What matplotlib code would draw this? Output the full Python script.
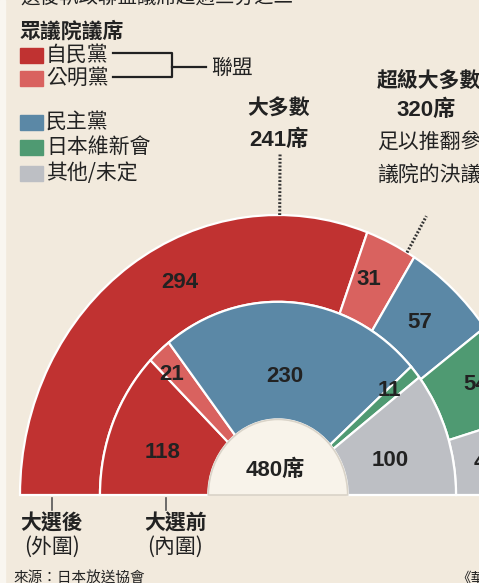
import numpy as np
import matplotlib
matplotlib.use('Agg')
import matplotlib.pyplot as plt
from matplotlib.patches import Wedge, Rectangle

# ── data ──────────────────────────────────────────────────────────────────
parties = ['自民黨', '公明黨', '民主黨', '日本維新會', '其他/未定']
colors = ['#C03231', '#D9625F', '#5B88A6', '#4F9A72', '#BDBFC4']
seats_after = [294, 31, 57, 54, 44]      # outer ring
seats_before = [118, 21, 230, 11, 100]   # inner ring
total_seats = 480
majority = 241
super_majority = 320

# label centres in pixels (x, y from top), same order as parties
after_pos = [(180, 283), (369, 280), (420, 322), (476, 385), (486, 462)]
before_pos = [(163, 452), (172, 375), (285, 376), (389, 390), (390, 460)]

W, H = 479, 583
BG = '#F2EADD'
INK = '#222222'
CX, CY, RX, RY = 278, 495, 258, 280     # centre and unit radius in px

CJK = ['Noto Sans CJK TC', 'DejaVu Sans']
NUM = ['Liberation Sans', 'Noto Sans CJK TC']

fig = plt.figure(figsize=(W / 100, H / 100), dpi=100, facecolor=BG)
ax = fig.add_axes([0, 0, 1, 1])
ax.set_xlim(-CX / RX, (W - CX) / RX)
ax.set_ylim((CY - H) / RY, CY / RY)
ax.set_aspect('auto')
ax.axis('off')
ax.set_facecolor(BG)

fig.patches.append(Rectangle((0, 0), 5 / W, 1, transform=fig.transFigure,
                             color='#F9F6F0', zorder=0))


def txt(px, py, s, size=11, weight='normal', family=CJK, ha='center', color=INK):
    fig.text(px / W, 1 - py / H, s, fontsize=size, fontweight=weight,
             family=family, ha=ha, va='center', color=color)


def ring(values, r_out, width):
    start = 180.0
    for v, c in zip(values, colors):
        span = 180.0 * v / total_seats
        ax.add_patch(Wedge((0, 0), r_out, start - span, start, width=width,
                           facecolor=c, edgecolor='white', lw=1.6))
        start -= span


ring(seats_after, 1.0, 0.31)
ring(seats_before, 0.69, 0.42)
ax.add_patch(Wedge((0, 0), 0.27, 0, 180, facecolor='#F8F3EA',
                   edgecolor='#D9D3C8', lw=1.2))

# majority / super-majority markers
for n, r_end in [(majority, 1.22), (super_majority, 1.15)]:
    th = np.deg2rad(180 - 180 * n / total_seats)
    ax.plot([np.cos(th), r_end * np.cos(th)], [np.sin(th), r_end * np.sin(th)],
            color='#333333', lw=2.2, ls=(0, (0.6, 0.6)))

# ring labels
for v, (px, py) in zip(seats_after, after_pos):
    txt(px, py, str(v), size=16, weight='bold', family=NUM)
for v, (px, py) in zip(seats_before, before_pos):
    txt(px, py, str(v), size=16, weight='bold', family=NUM)
txt(275, 470, f'{total_seats}席', size=16, weight='bold', family=NUM)

# header + legend
txt(20, -2, '選後執政聯盟議席超過三分之二', size=14, ha='left')
txt(20, 31, '眾議院議席', size=15, weight='bold', ha='left')
legend_y = [55, 78, 122, 147, 173]
for name, c, ly in zip(parties, colors, legend_y):
    fig.patches.append(Rectangle((20 / W, 1 - (ly + 7.5) / H), 23 / W, 15 / H,
                                 transform=fig.transFigure, color=c))
    txt(46, ly, name, size=15, ha='left')

# coalition bracket
bx = [113, 172, 172, 113]
by = [53, 53, 77, 77]
fig.lines.append(plt.Line2D([x / W for x in bx], [1 - y / H for y in by],
                            transform=fig.transFigure, color=INK, lw=1.6))
fig.lines.append(plt.Line2D([172 / W, 206 / W], [1 - 67 / H, 1 - 67 / H],
                            transform=fig.transFigure, color=INK, lw=1.6))
txt(211, 68, '聯盟', size=15, ha='left')

# annotations
txt(279, 108, '大多數', size=15, weight='bold')
txt(279, 140, f'{majority}席', size=16, weight='bold', family=NUM)
txt(377, 80, '超級大多數', size=15, weight='bold', ha='left')
txt(426, 110, f'{super_majority}席', size=16, weight='bold', family=NUM)
txt(377, 143, '足以推翻參議院', size=15, ha='left')
txt(377, 175, '議院的決議', size=15, ha='left')

# bottom
for tx in [52, 166]:
    fig.lines.append(plt.Line2D([tx / W, tx / W], [1 - 498 / H, 1 - 510 / H],
                                transform=fig.transFigure, color='#555555', lw=1.2))
txt(52, 523, '大選後', size=15, weight='bold')
txt(52, 547, '(外圍)', size=15)
txt(176, 523, '大選前', size=15, weight='bold')
txt(175, 547, '(內圍)', size=15)
txt(13, 579, '來源：日本放送協會', size=10.5, ha='left')
txt(456, 579, '《華', size=10.5, ha='left')

fig.savefig('out.png', dpi=100, facecolor=BG)
